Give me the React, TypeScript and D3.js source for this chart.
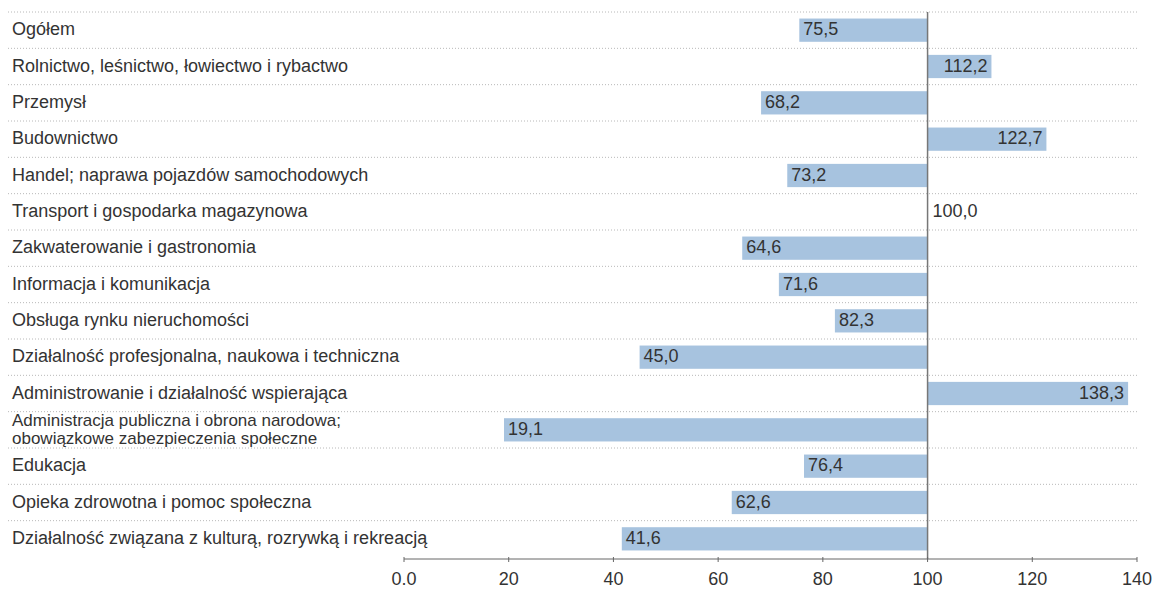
import * as d3 from 'd3';
import React, { useEffect, useRef } from 'react';

// sekcje PKD
const categories = [
  'Ogółem',
  'Rolnictwo, leśnictwo, łowiectwo i rybactwo',
  'Przemysł',
  'Budownictwo',
  'Handel; naprawa pojazdów samochodowych',
  'Transport i gospodarka magazynowa',
  'Zakwaterowanie i gastronomia',
  'Informacja i komunikacja',
  'Obsługa rynku nieruchomości',
  'Działalność profesjonalna, naukowa i techniczna',
  'Administrowanie i działalność wspierająca',
  'Administracja publiczna i obrona narodowa;\nobowiązkowe zabezpieczenia społeczne',
  'Edukacja',
  'Opieka zdrowotna i pomoc społeczna',
  'Działalność związana z kulturą, rozrywką i rekreacją',
];

const values = [75.5, 112.2, 68.2, 122.7, 73.2, 100.0, 64.6, 71.6, 82.3, 45.0, 138.3, 19.1, 76.4, 62.6, 41.6];

const tickValues = [0, 20, 40, 60, 80, 100, 120, 140];
const tickLabels = ['0.0', '20', '40', '60', '80', '100', '120', '140'];

const baseValue = 100;

const W = 1157;
const H = 590;
const FONT = '"Liberation Sans", Arial, sans-serif';

const App = () => {
  const ref = useRef<SVGSVGElement>(null);

  useEffect(() => {
    const svg = d3.select(ref.current);
    svg.selectAll('*').remove();

    const x = d3.scaleLinear().domain([0, 140]).range([404, 1137]);
    const y = d3.scaleBand().domain(categories).range([12, 557]).paddingInner(0.36).paddingOuter(0.18);
    const step = y.step();
    const fmt = (v: number) => d3.format('.1f')(v).replace('.', ',');

    // dotted separators
    const sepYs = categories.map((_, i) => 12 + i * step);
    svg.selectAll('.sep')
      .data(sepYs)
      .enter().append('line')
      .attr('x1', 8).attr('x2', 1137)
      .attr('y1', (d) => d).attr('y2', (d) => d)
      .attr('stroke', '#b8b8b8')
      .attr('stroke-width', 1)
      .attr('stroke-dasharray', '1,2');

    // bars from base 100
    svg.selectAll('.bar')
      .data(values)
      .enter().append('rect')
      .attr('x', (d) => x(Math.min(d, baseValue)))
      .attr('width', (d) => Math.abs(x(d) - x(baseValue)))
      .attr('y', (d, i) => y(categories[i])!)
      .attr('height', y.bandwidth())
      .attr('fill', '#a7c3df');

    // category labels
    const lab = svg.selectAll('.lab')
      .data(categories)
      .enter().append('text')
      .attr('x', 12)
      .attr('font-family', FONT)
      .attr('font-size', 18)
      .attr('fill', '#333');
    lab.each(function (d) {
      const lines = d.split('\n');
      const multi = lines.length > 1;
      const cy = y(d)! + y.bandwidth() / 2 - 1;
      const lh = 17.5;
      lines.forEach((line, k) => {
        d3.select(this).append('tspan')
          .attr('x', 12)
          .attr('y', cy + (k - (lines.length - 1) / 2) * lh)
          .attr('dy', '0.35em')
          .attr('font-size', multi ? 17 : 18)
          .text(line);
      });
    });

    // value labels
    svg.selectAll('.val')
      .data(values)
      .enter().append('text')
      .attr('x', (d) => (d > baseValue ? x(d) - 4 : d < baseValue ? x(d) + 4 : x(baseValue) + 5))
      .attr('y', (d, i) => y(categories[i])! + y.bandwidth() / 2 - 1)
      .attr('dy', '0.35em')
      .attr('text-anchor', (d) => (d > baseValue ? 'end' : 'start'))
      .attr('font-family', FONT)
      .attr('font-size', 18)
      .attr('fill', '#333')
      .text((d) => fmt(d));

    // reference line at 100
    svg.append('line')
      .attr('x1', x(baseValue)).attr('x2', x(baseValue))
      .attr('y1', 12).attr('y2', 559)
      .attr('stroke', '#777')
      .attr('stroke-width', 1.5);

    // x axis
    const axisY = 559;
    svg.append('line')
      .attr('x1', x(0)).attr('x2', x(140))
      .attr('y1', axisY).attr('y2', axisY)
      .attr('stroke', '#666')
      .attr('stroke-width', 1);
    svg.selectAll('.tick')
      .data(tickValues)
      .enter().append('line')
      .attr('x1', (d) => x(d)).attr('x2', (d) => x(d))
      .attr('y1', axisY - 2).attr('y2', axisY + 3)
      .attr('stroke', '#666');
    svg.selectAll('.tl')
      .data(tickValues)
      .enter().append('text')
      .attr('x', (d) => x(d))
      .attr('y', 585)
      .attr('text-anchor', 'middle')
      .attr('font-family', FONT)
      .attr('font-size', 18)
      .attr('fill', '#333')
      .text((d, i) => tickLabels[i]);
  }, []);

  return (
    <svg
      ref={ref}
      width={W}
      height={H}
      style={{ position: 'absolute', left: 0, top: 0, background: '#fff' }}
    />
  );
};

export default App;
